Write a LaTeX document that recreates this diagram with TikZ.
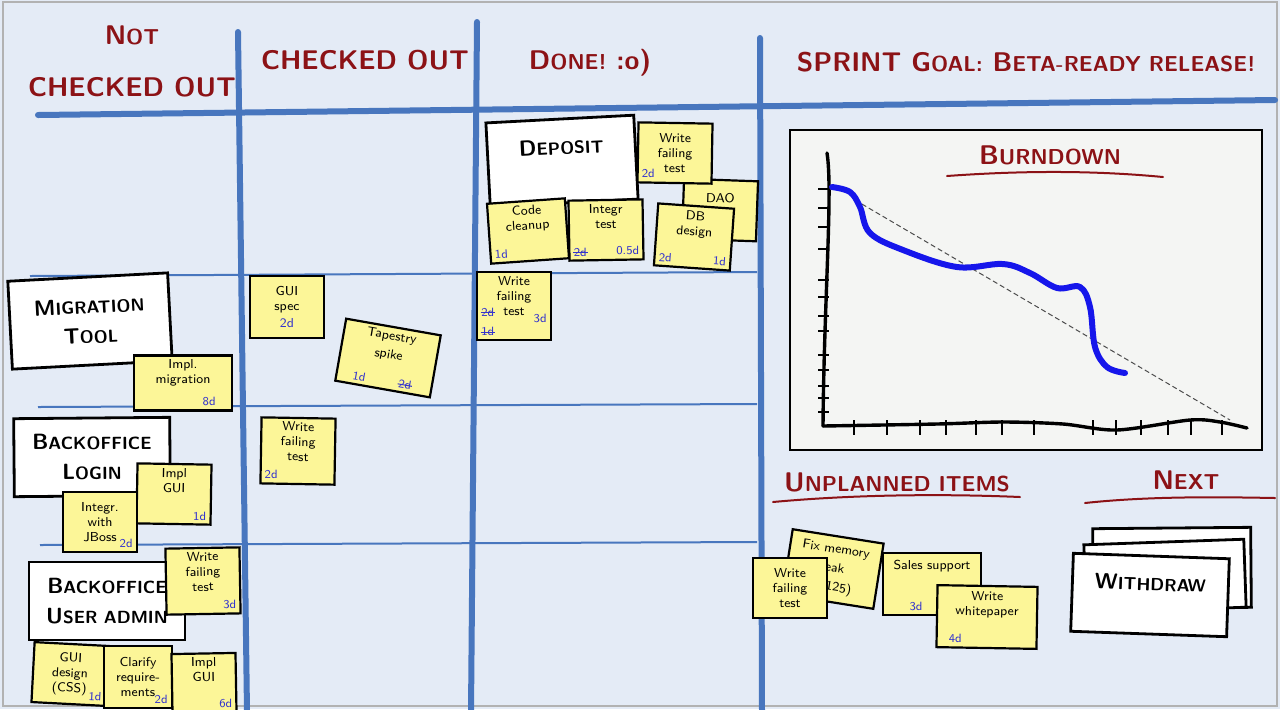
\documentclass[tikz,border=0pt]{standalone}
\usepackage{tikz}
\usetikzlibrary{calc}

\definecolor{boardbg}{RGB}{228,235,246}
\definecolor{laneblue}{RGB}{72,118,190}
\definecolor{headred}{RGB}{140,18,22}
\definecolor{notey}{RGB}{252,246,152}
\definecolor{estblue}{RGB}{52,52,205}
\definecolor{burnblue}{RGB}{22,22,235}
\definecolor{chartbg}{RGB}{244,245,243}

\newcommand{\capsm}[2]{#1\scalebox{0.8}{#2}}
\newcommand{\strk}[1]{\ooalign{#1\cr\hidewidth\rule[0.55ex]{1.2em}{0.5pt}\hidewidth\cr}}

\begin{document}
\begin{tikzpicture}[x=0.5pt,y=-0.5pt]
\tikzset{lane/.style={draw=laneblue,line width=3pt,line cap=round}}
\tikzset{rowline/.style={draw=laneblue,line width=1pt}}
\tikzset{heading/.style={text=headred,font=\sffamily\bfseries\fontsize{13.5}{15}\selectfont,align=center,inner sep=1pt}}
\tikzset{card/.style={draw=black,line width=1.4pt,fill=white,align=center,font=\sffamily\bfseries\fontsize{11}{15}\selectfont}}
\tikzset{sticky/.style={draw=black,line width=1.1pt,fill=notey,align=center,minimum width=37pt,minimum height=30pt,inner sep=2pt,font=\sffamily\fontsize{6.5}{7.5}\selectfont}}
\tikzset{tilted/.style={font=\sffamily\fontsize{6.5}{9.5}\selectfont}}
\tikzset{est/.style={text=estblue,font=\sffamily\fontsize{6}{6}\selectfont,inner sep=2.5pt}}
\tikzset{underl/.style={draw=headred,line width=1pt,line cap=round}}

\useasboundingbox (0,0) rectangle (1280,709);
\fill[boardbg] (0,0) rectangle (1280,709);
\draw[gray!60,line width=0.6pt] (3,2) rectangle (1277,706);

% board lines
\draw[lane] (38,115) -- (1275,100);
\draw[lane] (238,32) -- (247,712);
\draw[lane] (477,22) -- (471,712);
\draw[lane] (760,38) -- (762,712);
\draw[rowline] (30,276) -- (757,272);
\draw[rowline] (38,407) -- (757,404);
\draw[rowline] (40,545) -- (757,542);

% headings
\node (1) at (132,35) [heading] {\capsm{N}{OT}};
\node (2) at (132,87) [heading] {CHECKED OUT};
\node (3) at (365,60) [heading] {CHECKED OUT};
\node (4) at (590,63) [heading] {\capsm{D}{ONE!} :o)};
\node (5) at (1026,62) [heading] {SPRINT \capsm{G}{OAL:} \capsm{B}{ETA-READY RELEASE!}};

% done
\node (6) at (562,161) [card,rotate=3,minimum width=74pt,minimum height=42pt,text depth=14pt] {\capsm{D}{EPOSIT}};
\node (7) at (720,210) [sticky,rotate=-2,text depth=12pt] {DAO};
\node (8) at (675,153) [sticky,rotate=-1,label={[est,anchor=south west]south west:2d}] {Write\\failing\\test};
\node (9) at (528,231) [sticky,rotate=4,minimum width=39pt,label={[est,anchor=south west,rotate=4]south west:1d}] {Code\\cleanup\\[6pt]};
\node (10) at (606,230) [sticky,rotate=1,label={[est,anchor=south west]south west:{\strk{2d}}},label={[est,anchor=south east]south east:0.5d}] {Integr\\test\\[6pt]};
\node (11) at (694,237) [sticky,rotate=-4,minimum width=38pt,minimum height=31pt,label={[est,anchor=south west,rotate=-4]south west:2d},label={[est,anchor=south east,rotate=-4]south east:1d}] {DB\\design\\[6pt]};
\node (12) at (514,306) [sticky,label={[est,anchor=west,yshift=-3pt]west:{\strk{2d}}},label={[est,anchor=south west]south west:{\strk{1d}}},label={[est,anchor=east,yshift=-6pt]east:3d}] {Write\\failing\\test\\[3pt]};

% checked out
\node (13) at (287,307) [sticky,minimum height=31pt] {GUI\\spec\\[1pt]{\color{estblue}2d}};
\node (14) at (388,358) [sticky,tilted,rotate=-10,minimum width=48pt,label={[est,anchor=south west,rotate=-10,xshift=6pt]south west:1d},label={[est,anchor=south east,rotate=-10,xshift=-8pt]south east:{\strk{2d}}}] {Tapestry\\spike\\[4pt]};
\node (15) at (298,451) [sticky,rotate=-1,label={[est,anchor=south west]south west:2d}] {Write\\failing\\test\\[2pt]};

% not checked out
\node (16) at (90,321) [card,rotate=3,minimum width=80pt,minimum height=44pt] {\capsm{M}{IGRATION}\\\capsm{T}{OOL}};
\node (17) at (183,383) [sticky,minimum width=49pt,minimum height=25pt,label={[est,anchor=south east,xshift=-6pt]south east:8d}] {Impl.\\migration\\[4pt]};
\node (18) at (92,457) [card,rotate=0.5,minimum width=78pt,minimum height=39pt] {\capsm{B}{ACKOFFICE}\\\capsm{L}{OGIN}};
\node (19) at (174,494) [sticky,rotate=-1,label={[est,anchor=south east]south east:1d}] {Impl\\GUI\\[6pt]};
\node (20) at (100,522) [sticky,label={[est,anchor=south east]south east:2d}] {Integr.\\with\\JBoss};
\node (21) at (107,601) [card,minimum width=78pt,minimum height=39pt] {\capsm{B}{ACKOFFICE}\\\capsm{U}{SER ADMIN}};
\node (22) at (203,581) [sticky,rotate=1,label={[est,anchor=south east]south east:3d}] {Write\\failing\\test\\[2pt]};
\node (23) at (70,674) [sticky,rotate=-3,label={[est,anchor=south east,rotate=-3]south east:1d}] {GUI\\design\\(CSS)};
\node (24) at (138,677) [sticky,minimum width=34pt,minimum height=31pt,label={[est,anchor=south east]south east:2d}] {Clarify\\require-\\ments};
\node (25) at (204,683) [sticky,rotate=1,minimum width=32pt,minimum height=29pt,label={[est,anchor=south east]south east:6d}] {Impl\\GUI\\[6pt]};

% burndown
\draw[black,line width=1.2pt,fill=chartbg] (790,130) rectangle (1262,450);
\node (26) at (1050,155) [heading] {\capsm{B}{URNDOWN}};
\draw[underl] (947,176) .. controls (1030,170) and (1100,171) .. (1163,177);
\draw[black!70,dash pattern=on 2.5pt off 1.5pt,line width=0.5pt] (855,200) -- (1230,420);
\foreach \t in {189,208,227,249,280,297,316,331,355,370,386,398,412}
  \draw[line width=1pt] (818,\t) -- (829,\t);
\foreach \t in {854,887,920,946,976,1002,1034,1093,1116,1141,1168,1191,1222}
  \draw[line width=1pt] (\t,420) -- (\t,435);
\draw[line width=1.7pt,line cap=round] (827,153) .. controls (833,190) and (824,300) .. (823,426);
\draw[line width=1.7pt,line cap=round] plot[smooth] coordinates {(823,426) (937,424) (1003,422) (1063,424) (1117,430) (1190,420) (1220,422) (1247,428)};
\draw[burnblue,line width=3pt,line cap=round] plot[smooth,tension=0.6] coordinates {(832,187) (850,192) (860,207) (870,233) (903,250) (957,267) (1003,264) (1030,273) (1057,288) (1080,287) (1090,307) (1095,347) (1107,367) (1125,373)};

% unplanned items
\node (27) at (897,482) [heading] {\capsm{U}{NPLANNED ITEMS}};
\draw[underl] (773,502) .. controls (860,494) and (950,494) .. (1020,497);
\node (28) at (833,569) [sticky,tilted,rotate=-9,minimum width=46pt,minimum height=33pt] {Fix memory\\leak\\(\#125)};
\node (29) at (790,588) [sticky] {Write\\failing\\test};
\node (30) at (932,584) [sticky,minimum width=49pt,minimum height=31pt,label={[est,anchor=south,xshift=-8pt]south:3d}] {Sales support\\[12pt]};
\node (31) at (987,617) [sticky,rotate=-1,minimum width=50pt,minimum height=31pt,label={[est,anchor=south west,xshift=4pt]south west:4d}] {Write\\whitepaper\\[6pt]};

% next
\node (32) at (1186,480) [heading] {\capsm{N}{EXT}};
\draw[underl] (1085,503) .. controls (1150,496) and (1220,497) .. (1275,498);
\node (33) at (1172,568) [card,rotate=0.5,minimum width=79pt,minimum height=40pt] {};
\node (34) at (1165,576) [card,rotate=2,minimum width=80pt,minimum height=34pt] {};
\node (35) at (1150,595) [card,rotate=-2,minimum width=78pt,minimum height=39pt,text depth=12pt] {\capsm{W}{ITHDRAW}};
\end{tikzpicture}
\end{document}
